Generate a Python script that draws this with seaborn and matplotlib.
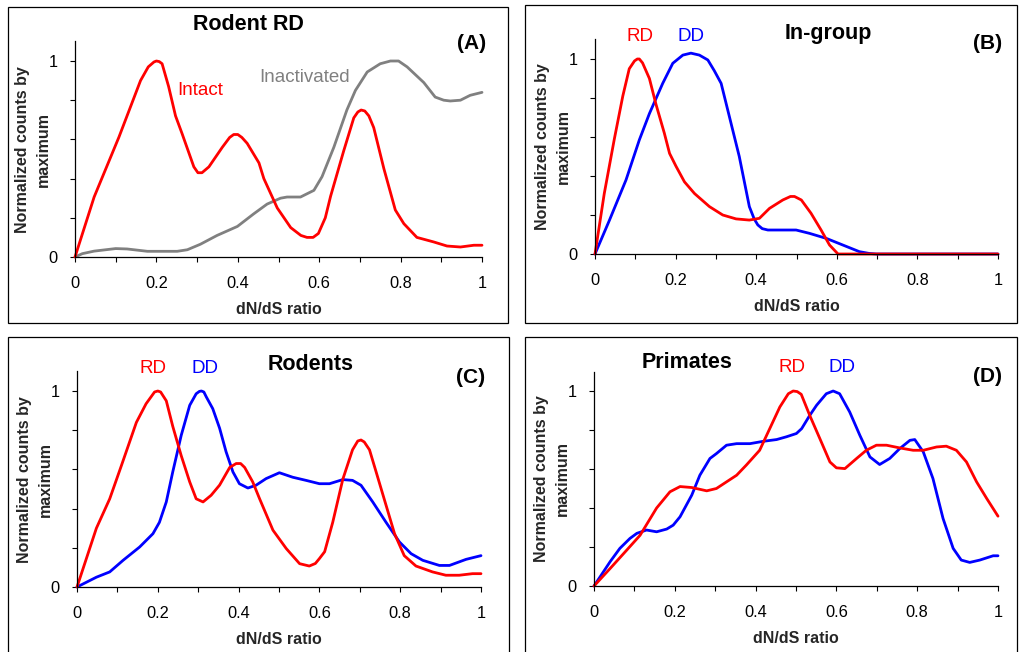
import numpy as np
import pandas as pd
import matplotlib
matplotlib.use("Agg")
import matplotlib.pyplot as plt
import seaborn as sns
from matplotlib.patches import Rectangle

# Panel A: Rodent RD, intact vs inactivated
a_intact_x = [0, 0.047, 0.108, 0.161, 0.18, 0.194, 0.2, 0.207, 0.214, 0.23, 0.247, 0.263, 0.292, 0.302,
              0.312, 0.329, 0.362, 0.38, 0.39, 0.4, 0.41, 0.423, 0.452, 0.464, 0.497, 0.53, 0.555,
              0.57, 0.585, 0.598, 0.615, 0.628, 0.66, 0.685, 0.695, 0.703, 0.712, 0.722, 0.734, 0.759,
              0.787, 0.808, 0.84, 0.881, 0.914, 0.947, 0.98, 1.0]
a_intact_y = [0, 0.306, 0.612, 0.90, 0.97, 0.995, 1.0, 0.997, 0.986, 0.87, 0.72, 0.63, 0.46, 0.43,
              0.43, 0.46, 0.56, 0.61, 0.625, 0.625, 0.61, 0.58, 0.48, 0.40, 0.25, 0.15, 0.11,
              0.10, 0.10, 0.12, 0.20, 0.31, 0.54, 0.71, 0.74, 0.75, 0.745, 0.72, 0.66, 0.45,
              0.24, 0.17, 0.10, 0.077, 0.056, 0.051, 0.06, 0.06]
a_inact_x = [0, 0.018, 0.047, 0.10, 0.128, 0.178, 0.251, 0.276, 0.308, 0.349, 0.399, 0.439, 0.472,
             0.505, 0.521, 0.554, 0.587, 0.607, 0.636, 0.668, 0.689, 0.718, 0.75, 0.775, 0.795,
             0.816, 0.857, 0.885, 0.906, 0.922, 0.947, 0.971, 1.0]
a_inact_y = [0, 0.017, 0.03, 0.043, 0.041, 0.029, 0.029, 0.037, 0.065, 0.11, 0.156, 0.22, 0.27,
             0.30, 0.306, 0.306, 0.34, 0.41, 0.56, 0.75, 0.85, 0.944, 0.986, 1.0, 1.0,
             0.97, 0.89, 0.816, 0.80, 0.796, 0.80, 0.825, 0.84]

# Panel B: In-group
b_rd_x = [0, 0.023, 0.048, 0.069, 0.085, 0.098, 0.105, 0.11, 0.118, 0.135, 0.151, 0.172, 0.185, 0.201,
          0.222, 0.247, 0.284, 0.317, 0.35, 0.383, 0.408, 0.433, 0.466, 0.485, 0.495, 0.512, 0.536,
          0.561, 0.582, 0.603, 0.7, 0.8, 0.9, 1.0]
b_rd_y = [0, 0.31, 0.59, 0.81, 0.95, 0.99, 1.0, 1.0, 0.98, 0.90, 0.77, 0.62, 0.516, 0.45,
          0.37, 0.31, 0.243, 0.20, 0.18, 0.174, 0.183, 0.234, 0.277, 0.295, 0.295, 0.277, 0.209,
          0.123, 0.046, 0, 0, 0, 0, 0]
b_dd_x = [0, 0.036, 0.077, 0.11, 0.135, 0.168, 0.193, 0.218, 0.238, 0.259, 0.28, 0.296, 0.313, 0.334,
          0.358, 0.383, 0.395, 0.404, 0.415, 0.429, 0.499, 0.532, 0.574, 0.615, 0.656, 0.68, 0.698,
          0.8, 0.9, 1.0]
b_dd_y = [0, 0.174, 0.38, 0.585, 0.72, 0.875, 0.978, 1.02, 1.03, 1.02, 0.995, 0.94, 0.875, 0.70,
          0.50, 0.243, 0.18, 0.149, 0.13, 0.123, 0.123, 0.106, 0.08, 0.046, 0.012, 0.003, 0,
          0, 0, 0]

# Panel C: Rodents
c_rd_x = [0, 0.048, 0.081, 0.11, 0.147, 0.171, 0.192, 0.2, 0.207, 0.221, 0.237, 0.258, 0.279, 0.295,
          0.312, 0.332, 0.353, 0.378, 0.394, 0.405, 0.415, 0.435, 0.452, 0.485, 0.518, 0.551, 0.575,
          0.59, 0.60, 0.613, 0.633, 0.658, 0.682, 0.695, 0.703, 0.711, 0.724, 0.74, 0.765, 0.786,
          0.81, 0.839, 0.88, 0.913, 0.946, 0.979, 1.0]
c_rd_y = [0, 0.30, 0.45, 0.62, 0.84, 0.935, 0.995, 1.0, 0.995, 0.95, 0.82, 0.67, 0.536, 0.45,
          0.434, 0.468, 0.52, 0.61, 0.63, 0.63, 0.61, 0.536, 0.45, 0.29, 0.196, 0.119, 0.107,
          0.12, 0.145, 0.18, 0.33, 0.55, 0.70, 0.745, 0.75, 0.74, 0.70, 0.59, 0.417, 0.272,
          0.16, 0.107, 0.077, 0.06, 0.06, 0.068, 0.068]
c_dd_x = [0, 0.048, 0.081, 0.114, 0.155, 0.188, 0.204, 0.221, 0.237, 0.258, 0.279, 0.295, 0.303, 0.308,
          0.314, 0.32, 0.336, 0.353, 0.369, 0.386, 0.402, 0.423, 0.443, 0.468, 0.501, 0.534, 0.567,
          0.60, 0.625, 0.658, 0.682, 0.703, 0.732, 0.765, 0.798, 0.827, 0.856, 0.897, 0.922, 0.963,
          1.0]
c_dd_y = [0, 0.05, 0.077, 0.136, 0.204, 0.272, 0.33, 0.434, 0.587, 0.774, 0.927, 0.986, 0.998, 1.0,
          0.995, 0.97, 0.91, 0.81, 0.69, 0.587, 0.527, 0.505, 0.519, 0.553, 0.583, 0.56, 0.544,
          0.527, 0.527, 0.548, 0.544, 0.519, 0.434, 0.33, 0.23, 0.17, 0.136, 0.11, 0.11, 0.141,
          0.16]

# Panel D: Primates
d_rd_x = [0, 0.04, 0.081, 0.114, 0.155, 0.188, 0.213, 0.242, 0.279, 0.303, 0.328, 0.353, 0.377, 0.41,
          0.435, 0.46, 0.481, 0.493, 0.503, 0.513, 0.534, 0.559, 0.584, 0.60, 0.621, 0.65, 0.674,
          0.699, 0.724, 0.757, 0.79, 0.815, 0.848, 0.872, 0.897, 0.922, 0.947, 0.972, 1.0]
d_rd_y = [0, 0.09, 0.184, 0.26, 0.40, 0.483, 0.51, 0.505, 0.488, 0.50, 0.534, 0.568, 0.62, 0.696,
          0.807, 0.918, 0.986, 1.0, 0.997, 0.983, 0.875, 0.756, 0.636, 0.606, 0.602, 0.654, 0.696,
          0.722, 0.722, 0.708, 0.696, 0.696, 0.713, 0.717, 0.696, 0.636, 0.534, 0.449, 0.358]
d_dd_x = [0, 0.04, 0.064, 0.089, 0.106, 0.13, 0.155, 0.18, 0.196, 0.213, 0.242, 0.262, 0.287, 0.303,
          0.328, 0.353, 0.386, 0.419, 0.452, 0.476, 0.501, 0.514, 0.534, 0.551, 0.575, 0.592, 0.608,
          0.633, 0.658, 0.683, 0.707, 0.732, 0.757, 0.782, 0.794, 0.815, 0.839, 0.864, 0.889, 0.909,
          0.93, 0.955, 0.988, 1.0]
d_dd_y = [0, 0.125, 0.193, 0.244, 0.27, 0.287, 0.278, 0.292, 0.312, 0.355, 0.466, 0.568, 0.654, 0.679,
          0.722, 0.73, 0.73, 0.742, 0.751, 0.765, 0.782, 0.807, 0.875, 0.927, 0.986, 1.0, 0.986,
          0.892, 0.773, 0.662, 0.623, 0.654, 0.705, 0.747, 0.751, 0.688, 0.551, 0.346, 0.193, 0.133,
          0.121, 0.133, 0.155, 0.155]

RED = "#FF0000"
BLUE = "#0000FF"
GREY = "#808080"

sns.set_style("ticks")
plt.rcParams['font.family'] = ['Liberation Sans', 'DejaVu Sans']

W, H = 1019, 652
fig = plt.figure(figsize=(W / 100, H / 100), dpi=100)

# panel frames (pixel boxes)
for (l, t, r, b) in [(8, 7, 508, 323), (525, 5, 1017, 323), (8, 337, 509, 660), (525, 337, 1017, 660)]:
    fig.patches.append(Rectangle((l / W, 1 - b / H), (r - l) / W, (b - t) / H,
                                 transform=fig.transFigure, fill=False, ec="black", lw=0.9))


def make_axes(x0, x1, y0, y1):
    unit = y0 - y1
    ax = fig.add_axes([x0 / W, 1 - y0 / H, (x1 - x0) / W, 1.1 * unit / H])
    ax.set_xlim(0, 1)
    ax.set_ylim(0, 1.1)
    sns.despine(ax=ax)
    for s in ["left", "bottom"]:
        ax.spines[s].set_color("black")
        ax.spines[s].set_linewidth(0.9)
    ax.set_xticks(np.linspace(0, 1, 11))
    ax.set_xticklabels(["0", "", "0.2", "", "0.4", "", "0.6", "", "0.8", "", "1"])
    ax.set_yticks(np.linspace(0, 1, 6))
    ax.set_yticklabels(["0", "", "", "", "", "1"])
    ax.tick_params(direction="out", length=3.6, width=0.8, color="black",
                   labelsize=11.8, labelcolor="black")
    ax.tick_params(axis="x", pad=10)
    ax.tick_params(axis="y", pad=9)
    # y label placed in figure pixels
    fig.text((x0 - 42) / W, 1 - (y0 - 0.55 * unit) / H, "Normalized counts by\nmaximum",
             rotation=90, ha="center", va="center", fontsize=11.5, fontweight="bold",
             linespacing=1.55, multialignment="center")
    return ax


def draw(ax, x, y, color):
    df = pd.DataFrame({"x": x, "y": y})
    sns.lineplot(data=df, x="x", y="y", color=color, lw=2.0, ax=ax, clip_on=False,
                 estimator=None, sort=False, solid_joinstyle="round", solid_capstyle="round")
    ax.set_xlabel("dN/dS ratio", fontsize=11.5, fontweight="bold", labelpad=8)
    ax.set_ylabel("")


def label(ax, x, y, s, color="black", size=13.5, bold=False):
    ax.text(x, y, s, color=color, fontsize=size, fontweight="bold" if bold else "normal",
            ha="center", va="center", clip_on=False)


# (A)
axA = make_axes(75, 482, 257, 61)
draw(axA, a_inact_x, a_inact_y, GREY)
draw(axA, a_intact_x, a_intact_y, RED)
label(axA, 0.425, 1.184, "Rodent RD", size=15.5, bold=True)
label(axA, 0.975, 1.087, "(A)", size=15, bold=True)
label(axA, 0.307, 0.847, "Intact", RED)
label(axA, 0.563, 0.918, "Inactivated", GREY)

# (B)
axB = make_axes(595, 998, 254, 59)
draw(axB, b_dd_x, b_dd_y, BLUE)
draw(axB, b_rd_x, b_rd_y, RED)
label(axB, 0.578, 1.133, "In-group", size=15.5, bold=True)
label(axB, 0.973, 1.082, "(B)", size=15, bold=True)
label(axB, 0.112, 1.113, "RD", RED)
label(axB, 0.238, 1.113, "DD", BLUE)

# (C)
axC = make_axes(77, 481, 587, 391)
draw(axC, c_dd_x, c_dd_y, BLUE)
draw(axC, c_rd_x, c_rd_y, RED)
label(axC, 0.579, 1.133, "Rodents", size=15.5, bold=True)
label(axC, 0.975, 1.071, "(C)", size=15, bold=True)
label(axC, 0.188, 1.117, "RD", RED)
label(axC, 0.317, 1.117, "DD", BLUE)

# (D)
axD = make_axes(594, 998, 586, 391)
draw(axD, d_dd_x, d_dd_y, BLUE)
draw(axD, d_rd_x, d_rd_y, RED)
label(axD, 0.230, 1.144, "Primates", size=15.5, bold=True)
label(axD, 0.973, 1.072, "(D)", size=15, bold=True)
label(axD, 0.490, 1.118, "RD", RED)
label(axD, 0.614, 1.118, "DD", BLUE)

fig.savefig("out.png", dpi=100, facecolor="white")
